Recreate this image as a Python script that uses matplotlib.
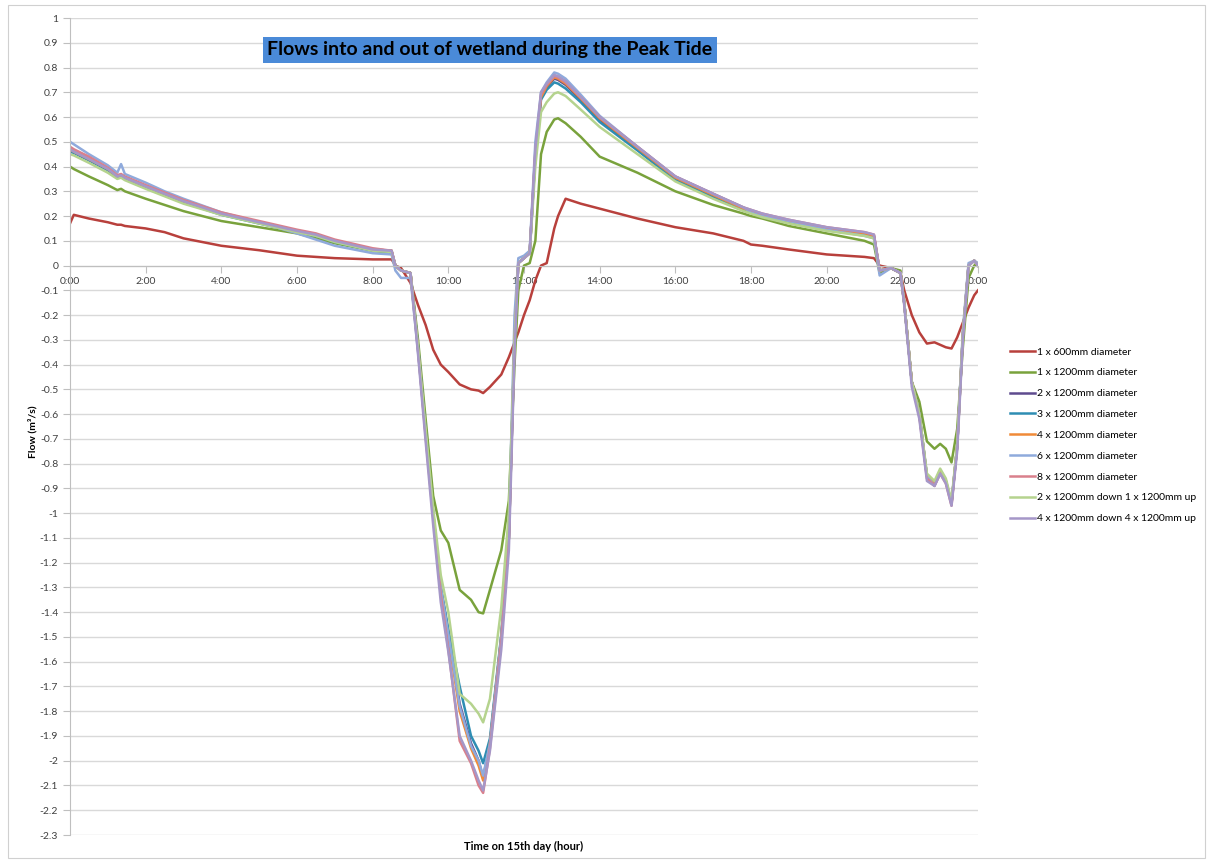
import matplotlib
matplotlib.use("Agg")
import matplotlib.pyplot as plt
from matplotlib.patches import Rectangle

plt.rcParams["font.family"] = ["Lato", "DejaVu Sans"]

# time of day in hours (shared by every series)
hours = [0, 0.1, 0.5, 1.0, 1.25, 1.35, 1.45, 2, 2.5, 3, 4, 5, 6, 6.5, 7, 8,
         8.5, 8.6, 8.75, 9.0, 9.2, 9.4, 9.6, 9.8, 10.0, 10.3,
         10.6, 10.8, 10.92, 11.1, 11.4, 11.6, 11.75, 11.85, 12.0, 12.15,
         12.3, 12.45, 12.6, 12.8, 12.9, 13.1, 13.5, 14, 15, 16,
         17, 17.8, 18, 18.3, 19, 20, 21, 21.25, 21.4, 21.7,
         21.95, 22.05, 22.25, 22.45, 22.65, 22.85, 23.0, 23.15, 23.3, 23.45,
         23.6, 23.75, 23.9, 24.0]

flow_1x600 = [0.17, 0.205, 0.19, 0.175, 0.165, 0.165, 0.16, 0.15, 0.135, 0.11, 0.08, 0.062, 0.04, 0.035, 0.03, 0.025,
              0.025, 0.0, -0.01, -0.07, -0.16, -0.24, -0.34, -0.40, -0.43, -0.48,
              -0.50, -0.505, -0.515, -0.49, -0.44, -0.37, -0.31, -0.27, -0.20, -0.14,
              -0.06, 0.0, 0.01, 0.15, 0.20, 0.27, 0.25, 0.23, 0.19, 0.155,
              0.13, 0.10, 0.085, 0.08, 0.065, 0.045, 0.035, 0.03, 0.0, -0.01,
              -0.03, -0.10, -0.20, -0.27, -0.315, -0.31, -0.32, -0.33, -0.335, -0.29,
              -0.23, -0.17, -0.12, -0.10]

flow_1x1200 = [0.40, 0.39, 0.36, 0.325, 0.305, 0.31, 0.30, 0.27, 0.245, 0.22, 0.18, 0.155, 0.13, 0.11, 0.09, 0.06,
               0.05, 0.0, -0.02, -0.03, -0.30, -0.62, -0.93, -1.07, -1.12, -1.31,
               -1.35, -1.40, -1.405, -1.31, -1.15, -0.95, -0.40, -0.10, 0.0, 0.01,
               0.10, 0.45, 0.54, 0.59, 0.595, 0.575, 0.52, 0.44, 0.375, 0.30,
               0.245, 0.21, 0.20, 0.19, 0.16, 0.13, 0.10, 0.085, -0.03, -0.01,
               -0.02, -0.15, -0.47, -0.55, -0.71, -0.74, -0.72, -0.74, -0.795, -0.66,
               -0.33, -0.05, 0.0, 0.01]

flow_2x1200 = [0.47, 0.46, 0.43, 0.39, 0.36, 0.365, 0.355, 0.32, 0.29, 0.26, 0.21, 0.175, 0.14, 0.125, 0.10, 0.065,
               0.06, 0.0, -0.02, -0.03, -0.33, -0.67, -1.00, -1.30, -1.48, -1.77,
               -1.93, -2.00, -2.07, -1.93, -1.50, -1.10, -0.30, 0.01, 0.03, 0.05,
               0.45, 0.68, 0.72, 0.755, 0.75, 0.73, 0.67, 0.59, 0.47, 0.35,
               0.28, 0.23, 0.22, 0.205, 0.18, 0.15, 0.13, 0.12, -0.02, -0.01,
               -0.03, -0.15, -0.47, -0.60, -0.85, -0.88, -0.83, -0.87, -0.96, -0.73,
               -0.28, 0.0, 0.02, 0.0]

flow_3x1200 = [0.46, 0.455, 0.425, 0.385, 0.355, 0.36, 0.35, 0.315, 0.285, 0.255, 0.205, 0.17, 0.135, 0.12, 0.095, 0.06,
               0.055, 0.0, -0.02, -0.03, -0.33, -0.67, -1.00, -1.30, -1.47, -1.70,
               -1.90, -1.96, -2.01, -1.91, -1.49, -1.10, -0.30, 0.01, 0.03, 0.05,
               0.44, 0.67, 0.71, 0.74, 0.735, 0.715, 0.66, 0.58, 0.465, 0.345,
               0.275, 0.225, 0.215, 0.20, 0.175, 0.145, 0.125, 0.115, -0.02, -0.01,
               -0.03, -0.15, -0.47, -0.60, -0.85, -0.88, -0.83, -0.87, -0.96, -0.73,
               -0.28, 0.0, 0.02, 0.0]

flow_4x1200 = [0.47, 0.46, 0.43, 0.39, 0.36, 0.365, 0.355, 0.32, 0.29, 0.26, 0.21, 0.175, 0.14, 0.125, 0.10, 0.065,
               0.06, 0.0, -0.02, -0.03, -0.34, -0.68, -1.01, -1.31, -1.50, -1.80,
               -1.95, -2.02, -2.08, -1.93, -1.50, -1.10, -0.30, 0.01, 0.03, 0.05,
               0.45, 0.68, 0.725, 0.76, 0.755, 0.735, 0.675, 0.595, 0.475, 0.355,
               0.285, 0.23, 0.22, 0.205, 0.18, 0.15, 0.13, 0.12, -0.02, -0.01,
               -0.03, -0.15, -0.47, -0.60, -0.85, -0.88, -0.83, -0.87, -0.96, -0.73,
               -0.28, 0.0, 0.02, 0.0]

flow_6x1200 = [0.50, 0.49, 0.45, 0.405, 0.375, 0.41, 0.37, 0.335, 0.30, 0.27, 0.215, 0.175, 0.13, 0.105, 0.08, 0.05,
               0.045, -0.02, -0.05, -0.05, -0.35, -0.68, -1.00, -1.30, -1.49, -1.78,
               -1.94, -2.00, -2.06, -1.93, -1.50, -1.05, -0.20, 0.03, 0.04, 0.06,
               0.50, 0.70, 0.74, 0.78, 0.775, 0.755, 0.69, 0.605, 0.48, 0.36,
               0.29, 0.235, 0.215, 0.20, 0.18, 0.145, 0.12, 0.11, -0.04, -0.01,
               -0.03, -0.15, -0.47, -0.60, -0.85, -0.89, -0.84, -0.87, -0.96, -0.73,
               -0.26, 0.01, 0.02, 0.01]

flow_8x1200 = [0.48, 0.47, 0.44, 0.395, 0.365, 0.37, 0.36, 0.325, 0.295, 0.265, 0.215, 0.18, 0.145, 0.13, 0.105, 0.07,
               0.06, 0.0, -0.02, -0.03, -0.34, -0.69, -1.02, -1.33, -1.55, -1.92,
               -2.01, -2.10, -2.13, -1.95, -1.52, -1.10, -0.30, 0.01, 0.03, 0.05,
               0.46, 0.69, 0.73, 0.765, 0.76, 0.74, 0.68, 0.60, 0.48, 0.36,
               0.29, 0.235, 0.225, 0.21, 0.185, 0.155, 0.135, 0.125, -0.02, -0.01,
               -0.03, -0.15, -0.47, -0.61, -0.86, -0.89, -0.84, -0.88, -0.97, -0.73,
               -0.28, 0.0, 0.02, 0.0]

flow_2down_1up = [0.45, 0.445, 0.415, 0.375, 0.35, 0.355, 0.345, 0.31, 0.28, 0.25, 0.205, 0.17, 0.135, 0.12, 0.095, 0.06,
                  0.055, 0.0, -0.02, -0.03, -0.33, -0.66, -0.98, -1.25, -1.40, -1.73,
                  -1.77, -1.81, -1.845, -1.75, -1.38, -1.00, -0.30, 0.01, 0.03, 0.05,
                  0.40, 0.62, 0.66, 0.695, 0.70, 0.685, 0.63, 0.56, 0.45, 0.34,
                  0.27, 0.22, 0.21, 0.195, 0.17, 0.14, 0.12, 0.11, -0.02, -0.01,
                  -0.03, -0.15, -0.47, -0.60, -0.84, -0.87, -0.82, -0.86, -0.95, -0.72,
                  -0.28, 0.0, 0.02, 0.0]

flow_4down_4up = [0.47, 0.46, 0.43, 0.39, 0.36, 0.365, 0.355, 0.32, 0.29, 0.26, 0.21, 0.175, 0.14, 0.125, 0.10, 0.065,
                  0.06, 0.0, -0.02, -0.03, -0.36, -0.71, -1.05, -1.36, -1.56, -1.90,
                  -2.00, -2.08, -2.12, -1.96, -1.55, -1.15, -0.35, 0.01, 0.03, 0.05,
                  0.47, 0.70, 0.735, 0.77, 0.765, 0.745, 0.68, 0.60, 0.48, 0.36,
                  0.29, 0.235, 0.225, 0.21, 0.185, 0.155, 0.135, 0.125, -0.02, -0.01,
                  -0.03, -0.16, -0.49, -0.62, -0.87, -0.89, -0.84, -0.88, -0.97, -0.75,
                  -0.30, 0.0, 0.02, 0.0]

series = [
    ("1 x 600mm diameter", flow_1x600, "#B8403C"),
    ("1 x 1200mm diameter", flow_1x1200, "#79A23C"),
    ("2 x 1200mm diameter", flow_2x1200, "#5E4B8E"),
    ("3 x 1200mm diameter", flow_3x1200, "#2E8DB3"),
    ("4 x 1200mm diameter", flow_4x1200, "#F08A38"),
    ("6 x 1200mm diameter", flow_6x1200, "#8FAADC"),
    ("8 x 1200mm diameter", flow_8x1200, "#D9808C"),
    ("2 x 1200mm down 1 x 1200mm up", flow_2down_1up, "#B5D38E"),
    ("4 x 1200mm down 4 x 1200mm up", flow_4down_4up, "#A597C8"),
]

x_ticks = list(range(0, 25, 2))
x_labels = ["%d:00" % (h % 24) for h in x_ticks]
y_ticks = [round(-2.3 + 0.1 * i, 1) for i in range(34)]

fig = plt.figure(figsize=(12.11, 8.63), dpi=100)
fig.patches.append(Rectangle((8 / 1211, 5 / 863), 1197 / 1211, 853 / 863,
                             transform=fig.transFigure, fill=False,
                             edgecolor="#D0D0D0", linewidth=0.8))
ax = fig.add_axes([70 / 1211, 28 / 863, 908 / 1211, 817 / 863])

for label, vals, color in series:
    ax.plot(hours, vals, color=color, linewidth=1.8, label=label)

ax.set_xlim(0, 24)
ax.set_ylim(-2.3, 1)
ax.set_xticks(x_ticks)
ax.set_xticklabels(x_labels)
ax.set_yticks(y_ticks)
ax.set_yticklabels(["%g" % v for v in y_ticks])
ax.grid(axis="y", color="#D9D9D9", linewidth=1)
ax.set_axisbelow(True)

for s in ["top", "right"]:
    ax.spines[s].set_visible(False)
ax.spines["bottom"].set_position(("data", 0))
ax.spines["bottom"].set_color("#BFBFBF")
ax.spines["left"].set_color("#BFBFBF")
ax.tick_params(axis="both", colors="#BFBFBF", labelcolor="#404040",
               labelsize=7.5, length=5)
ax.tick_params(axis="x", pad=3)

fig.text(33 / 1211, 1 - 432 / 863, "Flow (m\u00b3/s)", rotation=90,
         ha="center", va="center", fontsize=7.5, fontweight="bold")
fig.text(524 / 1211, 1 - 846 / 863, "Time on 15th day (hour)",
         ha="center", va="center", fontsize=8, fontweight="bold")

fig.text(490 / 1211, 1 - 50 / 863, "Flows into and out of wetland during the Peak Tide",
         ha="center", va="center", fontsize=14, fontweight="bold",
         bbox=dict(boxstyle="square,pad=0.22", facecolor="#4A8AD8", edgecolor="none"))

fig.legend(loc="upper left", bbox_to_anchor=(1005 / 1211, 1 - 342 / 863),
           frameon=False, fontsize=7.5, handlelength=2.4, handletextpad=0.15,
           labelspacing=1.11, borderpad=0)

fig.savefig("out.png", dpi=100)
